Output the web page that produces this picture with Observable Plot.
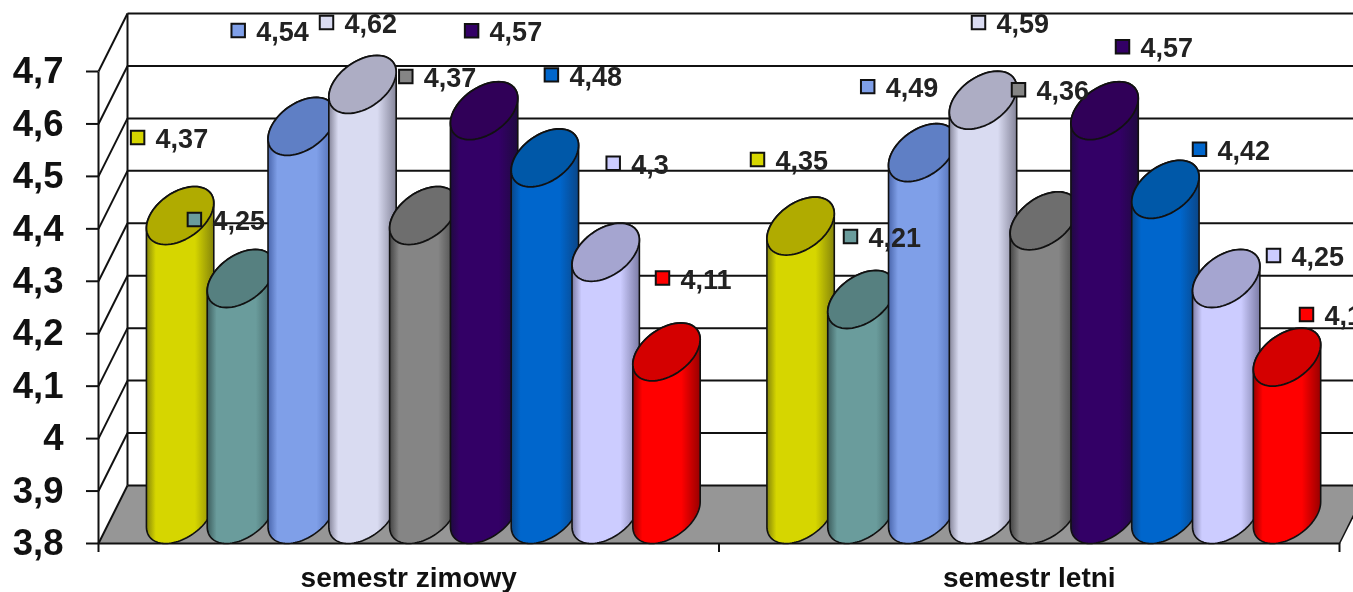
<!DOCTYPE html>
<html>
<head>
<meta charset="utf-8">
<script src="https://cdn.jsdelivr.net/npm/d3@7"></script>
<script src="https://cdn.jsdelivr.net/npm/@observablehq/plot@0.6"></script>
<style>
html,body{margin:0;padding:0;background:#fff;overflow:hidden}
svg{display:block;filter:blur(.45px)}
</style>
</head>
<body>
<div id="chart"></div>
<script>
// ---- data
const groups = ["semestr zimowy", "semestr letni"];
const zimowy = [4.37, 4.25, 4.54, 4.62, 4.37, 4.57, 4.48, 4.3, 4.11];
const letni  = [4.35, 4.21, 4.49, 4.59, 4.36, 4.57, 4.42, 4.25, 4.1];
const yTicks = [3.8, 3.9, 4, 4.1, 4.2, 4.3, 4.4, 4.5, 4.6, 4.7];

// ---- colours of each series: edge, middle, top cap
const edgeColors = ["#85850a","#3c5c5c","#4a66ac","#85859a","#444444","#1f0a40","#0a4688","#7c7ca6","#980000"];
const midColors  = ["#d6d600","#6a9c9c","#7f9fe8","#d9dbf1","#858585","#330066","#0066cc","#ccccff","#ff0000"];
const capColors  = ["#b0ab00","#568080","#5f7fc5","#adadc4","#6e6e6e","#300058","#0058a8","#a5a5d0","#d40000"];

// ---- where each data label was shifted to, relative to its column's top, in screen px
const labelShiftX = [-28,-32,-49,-21.5,-3,2,21,22,10.5, -28.6,3.6,-40,10,-10.8,32.4,48.6,61.8,34];
const labelShiftY = [-107,-88,-125,-91,-168,-109,-112,-118,-103, -95.6,-92,-95,-106.7,-160,-93,-69,-52,-71.7];

// ---- oblique 3D projection, in scale units
const W = 1353, H = 592, mL = 98, mR = 14, mT = 71, mB = 49;
const xDomain = [0, 2], yDomain = [3.8, 4.7];
const xPerPx = 2 / (W - mL - mR), yPerPx = 0.9 / (H - mT - mB);
const depthX = 29 * xPerPx, depthY = 58 * yPerPx;
const slot = 60.8 * xPerPx, groupPad = 36.7 * xPerPx;

const project = (x, v, d) => ({x: x + d * depthX, y: v + d * depthY});
const font = '"Liberation Sans", Arial, sans-serif';

// a horizontal circle of the column, given the fraction of the turn
const ring = (x0, v, t) => {
  const px = x0 + (slot / 2) * Math.cos(t) + (depthX / 2) * (1 + Math.sin(t));
  const py = v + depthY / 2 + (depthY / 2) * Math.sin(t);
  return {x: px, y: py};
};
const tR = Math.atan2(depthX / 2, slot / 2);
const arc = (x0, v, from, to, n = 48) =>
  d3.range(n + 1).map(i => ring(x0, v, from + (to - from) * i / n));

const columns = [zimowy, letni].flatMap((vals, g) =>
  vals.map((v, i) => ({g, i, v, x0: g + groupPad + slot * (i + 0.5)})));

const bodyPts = c => [
  ...arc(c.x0, yDomain[0], tR + Math.PI, tR + 2 * Math.PI),
  ...arc(c.x0, c.v, tR, tR + Math.PI)
];
const capPts = c => arc(c.x0, c.v, 0, 2 * Math.PI, 72);

const labels = columns.map((c, k) => ({
  x: c.x0 + labelShiftX[k] * xPerPx,
  y: c.v - labelShiftY[k] * yPerPx,
  text: String(c.v).replace(".", ","),
  color: midColors[c.i]
}));

function gradients() {
  const defs = d3.create("svg:defs");
  midColors.forEach((m, i) => {
    const g = defs.append("linearGradient").attr("id", "cyl" + i)
      .attr("x1", 0).attr("x2", 1).attr("y1", 0).attr("y2", 0);
    [[0, edgeColors[i]], [0.14, m], [0.72, m], [1, edgeColors[i]]]
      .forEach(([o, c]) => g.append("stop").attr("offset", o).attr("stop-color", c));
  });
  return defs.node();
}

const lineStyle = {stroke: "#111", strokeWidth: 2};
const floorPts = [project(0,3.8,0), project(2,3.8,0), project(2,3.8,1), project(0,3.8,1)];

const plot = Plot.plot({
  width: W, height: H,
  marginLeft: mL, marginRight: mR, marginTop: mT, marginBottom: mB,
  style: {fontFamily: font, color: "#111", background: "#fff"},
  x: {type: "linear", domain: xDomain, axis: null, label: null},
  y: {type: "linear", domain: yDomain, axis: null, label: null},
  marks: [
    gradients,
    // floor
    Plot.line(floorPts, {x: "x", y: "y", fill: "#969696", stroke: "none", curve: "linear-closed"}),
    // back-wall grid lines
    Plot.link(yTicks, {
      x1: () => 0 + depthX, x2: () => 2 + depthX,
      y1: v => v + depthY, y2: v => v + depthY, ...lineStyle
    }),
    // side-wall lines
    Plot.link(yTicks, {
      x1: () => 0, y1: v => v,
      x2: () => depthX, y2: v => v + depthY, ...lineStyle
    }),
    Plot.link([0], {x1: () => 0, x2: () => 0, y1: () => 3.8, y2: () => 4.7, ...lineStyle}),
    Plot.link([0], {x1: () => depthX, x2: () => depthX, y1: () => 3.8 + depthY, y2: () => 4.7 + depthY, ...lineStyle}),
    Plot.link([0], {x1: () => 2, y1: () => 3.8, x2: () => 2 + depthX, y2: () => 3.8 + depthY, stroke: "#111", strokeWidth: 1.5}),
    // axes
    Plot.axisY({
      ticks: yTicks, tickSize: 12, tickPadding: 23, anchor: "left", label: null,
      tickFormat: v => String(v).replace(".", ","),
      fontSize: 36.5, fontWeight: "bold", stroke: "#111", strokeWidth: 2
    }),
    Plot.link([0], {x1: () => 0, x2: () => 2, y1: () => 3.8, y2: () => 3.8, ...lineStyle}),
    Plot.axisX({ticks: [0, 1, 2], tickSize: 9, tickFormat: () => "", anchor: "bottom", label: null, stroke: "#111", strokeWidth: 2}),
    Plot.axisX({
      ticks: [0.5, 1.5], tickSize: 0, tickPadding: 24, anchor: "bottom", label: null,
      tickFormat: v => groups[Math.floor(v)],
      fontSize: 28, fontWeight: "bold"
    }),
    // columns, left to right
    ...columns.flatMap(c => [
      Plot.line(bodyPts(c), {x: "x", y: "y", fill: `url(#cyl${c.i})`, stroke: "#111", strokeWidth: 1.6, curve: "linear-closed"}),
      Plot.line(capPts(c), {x: "x", y: "y", fill: capColors[c.i], stroke: "#111", strokeWidth: 1.8, curve: "linear-closed"})
    ]),
    // data labels
    Plot.dot(labels, {x: "x", y: "y", symbol: "square", r: 7.6, fill: "color", stroke: "#111", strokeWidth: 2}),
    Plot.text(labels, {x: "x", y: "y", text: "text", dx: 18, dy: 2, textAnchor: "start", fontSize: 27, fontWeight: "bold", fill: "#222"})
  ]
});
document.getElementById("chart").appendChild(plot);
</script>
</body>
</html>
